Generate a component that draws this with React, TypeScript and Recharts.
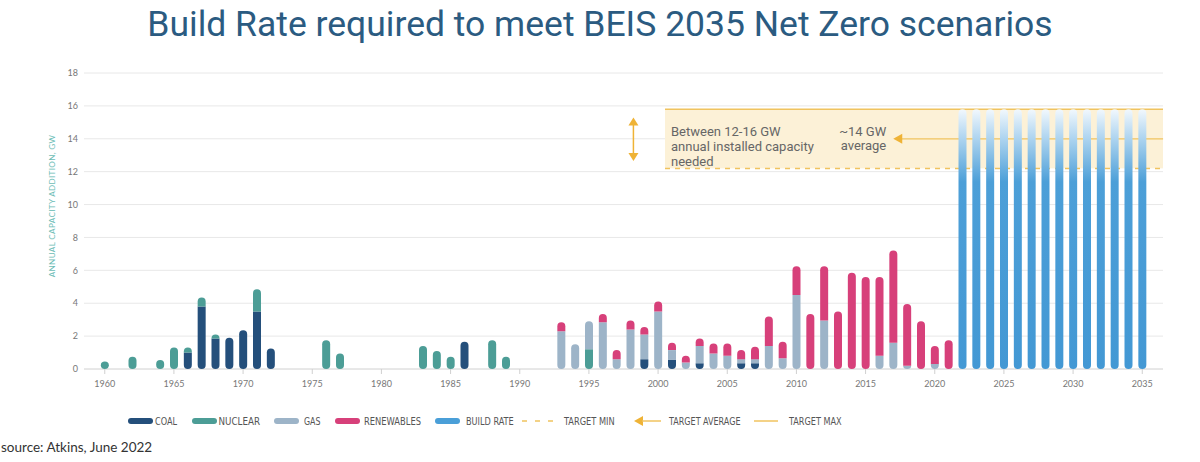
import React from 'react';
import { BarChart, Bar, XAxis, YAxis, CartesianGrid, ReferenceArea, ReferenceLine } from 'recharts';

const YEARS: number[] = [
  1959, 1960, 1961, 1962, 1963, 1964, 1965, 1966, 1967, 1968, 1969, 1970, 1971, 1972, 1973, 1974,
  1975, 1976, 1977, 1978, 1979, 1980, 1981, 1982, 1983, 1984, 1985, 1986, 1987, 1988, 1989, 1990,
  1991, 1992, 1993, 1994, 1995, 1996, 1997, 1998, 1999, 2000, 2001, 2002, 2003, 2004, 2005, 2006,
  2007, 2008, 2009, 2010, 2011, 2012, 2013, 2014, 2015, 2016, 2017, 2018, 2019, 2020, 2021, 2022,
  2023, 2024, 2025, 2026, 2027, 2028, 2029, 2030, 2031, 2032, 2033, 2034, 2035, 2036,
];
const X_TICKS = [1960, 1965, 1970, 1975, 1980, 1985, 1990, 1995, 2000, 2005, 2010, 2015, 2020, 2025, 2030, 2035];
const Y_TICKS = [0, 2, 4, 6, 8, 10, 12, 14, 16, 18];

const COAL: [number, number][] = [
  [1966, 1.0], [1967, 3.8], [1968, 1.85], [1969, 1.9], [1970, 2.35], [1971, 3.5], [1972, 1.25],
  [1986, 1.65], [1999, 0.6], [2001, 0.55], [2003, 0.35], [2006, 0.35], [2007, 0.35],
];
const NUCLEAR: [number, number][] = [
  [1960, 0.45], [1962, 0.75], [1964, 0.55], [1965, 1.3], [1966, 0.3], [1967, 0.55], [1968, 0.25],
  [1971, 1.35], [1976, 1.75], [1977, 0.95], [1983, 1.4], [1984, 1.1], [1985, 0.75], [1988, 1.75],
  [1989, 0.75], [1995, 1.2],
];
const GAS: [number, number][] = [
  [1993, 2.3], [1994, 1.5], [1995, 1.7], [1996, 2.85], [1997, 0.6], [1998, 2.4], [1999, 1.5],
  [2000, 3.5], [2001, 0.6], [2002, 0.4], [2003, 1.05], [2004, 0.95], [2005, 0.8], [2006, 0.25],
  [2007, 0.25], [2008, 1.4], [2009, 0.65], [2010, 4.5], [2012, 2.95], [2016, 0.8], [2017, 1.6],
  [2018, 0.2], [2020, 0.3],
];
const RENEWABLES: [number, number][] = [
  [1993, 0.55], [1996, 0.5], [1997, 0.55], [1998, 0.55], [1999, 0.45], [2000, 0.6], [2001, 0.45],
  [2002, 0.4], [2003, 0.45], [2004, 0.6], [2005, 0.75], [2006, 0.55], [2007, 0.75], [2008, 1.8],
  [2009, 1.0], [2010, 1.75], [2011, 3.35], [2012, 3.3], [2013, 3.5], [2014, 5.85], [2015, 5.6],
  [2016, 4.8], [2017, 5.6], [2018, 3.75], [2019, 2.9], [2020, 1.1], [2021, 1.75],
];
const BUILD_RATE: [number, number][] = [
  [2022, 15.8], [2023, 15.8], [2024, 15.8], [2025, 15.8], [2026, 15.8], [2027, 15.8], [2028, 15.8],
  [2029, 15.8], [2030, 15.8], [2031, 15.8], [2032, 15.8], [2033, 15.8], [2034, 15.8], [2035, 15.8],
];

const TARGET_MIN = 12.2;
const TARGET_AVG = 14;
const TARGET_MAX = 15.8;
const TARGET_START_YEAR = 2001;
const AVG_ARROW_YEAR = 2017;
const LAST_YEAR = 2036;
const RANGE_ARROW_YEAR = 1998;
const RANGE_ARROW_TOP = 15.3;
const RANGE_ARROW_BOTTOM = 12.65;

const SERIES = [
  { key: 'coal', name: 'COAL', color: '#244f7b', values: COAL },
  { key: 'nuclear', name: 'NUCLEAR', color: '#4c9d96', values: NUCLEAR },
  { key: 'gas', name: 'GAS', color: '#9db4c8', values: GAS },
  { key: 'renewables', name: 'RENEWABLES', color: '#d7407a', values: RENEWABLES },
  { key: 'build', name: 'BUILD RATE', color: 'url(#buildGrad)', values: BUILD_RATE },
];

const data = YEARS.map((year) => {
  const row: Record<string, number> = { year };
  SERIES.forEach((s) => {
    const f = s.values.find((v) => v[0] === year);
    row[s.key] = f ? f[1] : 0;
  });
  return row;
});

const GOLD = '#f0c35f';
const ARROW = '#efb336';

const W = 1200;
const H = 462;
const MARGIN = { top: 73, right: 37, left: 0, bottom: 68 };
const Y_AXIS_W = 84;
const X_AXIS_H = 25;

const makeShape = (idx: number, fill: string) => (props: any) => {
  const { x, y, width, height, payload } = props;
  if (!height || height <= 0 || !payload) return <g />;
  const keys = SERIES.map((s) => s.key);
  const below = keys.slice(0, idx).some((k) => (payload[k] || 0) > 0);
  const above = keys.slice(idx + 1).some((k) => (payload[k] || 0) > 0);
  const rx = width / 2;
  const rt = above ? 0 : Math.min(rx, below ? height : height / 2);
  const rb = below ? 0 : Math.min(rx, above ? height : height / 2);
  let d = `M${x},${y + rt}`;
  d += rt > 0 ? `A${rx},${rt} 0 0 1 ${x + width},${y + rt}` : `L${x + width},${y}`;
  d += `L${x + width},${y + height - rb}`;
  d += rb > 0 ? `A${rx},${rb} 0 0 1 ${x},${y + height - rb}` : `L${x},${y + height}`;
  d += 'Z';
  return <path d={d} fill={fill} />;
};

const emptyShape = () => <g />;

const annotFont = "'Liberation Sans Narrow', 'Roboto', sans-serif";

const TargetBand = (p: any) => {
  const { x, y, width, height } = p;
  return (
    <g>
      <rect x={x} y={y} width={width} height={height} fill="#fcf1d7" />
      <line x1={x} x2={x + width} y1={y} y2={y} stroke={GOLD} strokeWidth={1.5} />
      <line x1={x} x2={x + width} y1={y + height} y2={y + height} stroke={GOLD} strokeWidth={1.5} strokeDasharray="5 5" />
      <g fontFamily={annotFont} fontSize={13} fill="#666">
        <text x={x + 6} y={y + 27}>Between 12-16 GW</text>
        <text x={x + 6} y={y + 41.5}>annual installed capacity</text>
        <text x={x + 6} y={y + 56.5}>needed</text>
      </g>
    </g>
  );
};

const AvgArrow = (p: any) => {
  const x1 = Math.min(p.x1, p.x2);
  const x2 = Math.max(p.x1, p.x2);
  const y = p.y1;
  return (
    <g>
      <line x1={x1 + 8} x2={x2 + 7} y1={y} y2={y} stroke={GOLD} strokeWidth={1.3} />
      <polygon points={`${x1},${y} ${x1 + 9},${y - 5} ${x1 + 9},${y + 5}`} fill={ARROW} />
      <g fontFamily={annotFont} fontSize={13} fill="#666" textAnchor="end">
        <text x={x1 - 7} y={y - 3}>~14 GW</text>
        <text x={x1 - 7} y={y + 11.5}>average</text>
      </g>
    </g>
  );
};

const RangeArrow = (p: any) => {
  const x = p.x1 + 3;
  const yt = Math.min(p.y1, p.y2);
  const yb = Math.max(p.y1, p.y2);
  return (
    <g>
      <line x1={x} x2={x} y1={yt + 5} y2={yb - 5} stroke={ARROW} strokeWidth={1.5} />
      <polygon points={`${x},${yt} ${x - 5},${yt + 8} ${x + 5},${yt + 8}`} fill={ARROW} />
      <polygon points={`${x},${yb} ${x - 5},${yb - 8} ${x + 5},${yb - 8}`} fill={ARROW} />
    </g>
  );
};

const legendFont = "'Liberation Sans Narrow', 'DejaVu Sans Condensed', 'Roboto', sans-serif";

const Legend = () => {
  const ly = 421;
  const swatches = [
    { x: 128, color: '#244f7b', label: 'COAL', tx: 155, tw: 22 },
    { x: 192, color: '#4c9d96', label: 'NUCLEAR', tx: 218.5, tw: 41.5 },
    { x: 274, color: '#9db4c8', label: 'GAS', tx: 304, tw: 16.5 },
    { x: 335, color: '#d7407a', label: 'RENEWABLES', tx: 364, tw: 57 },
    { x: 435, color: '#4a9fd8', label: 'BUILD RATE', tx: 466, tw: 47.7 },
  ];
  return (
    <g fontFamily={legendFont} fontSize={11} fill="#555">
      {swatches.map((s) => (
        <g key={s.label}>
          <rect x={s.x} y={ly - 3} width={25} height={6} rx={3} fill={s.color} />
          <text x={s.tx} y={ly + 4} textLength={s.tw} lengthAdjust="spacingAndGlyphs">{s.label}</text>
        </g>
      ))}
      <line x1={522} x2={558} y1={ly} y2={ly} stroke={GOLD} strokeWidth={1.5} strokeDasharray="5 8" />
      <text x={564} y={ly + 4} textLength={50.6} lengthAdjust="spacingAndGlyphs">TARGET MIN</text>
      <polygon points={`634,${ly} 643,${ly - 5} 643,${ly + 5}`} fill={ARROW} />
      <line x1={642} x2={661} y1={ly} y2={ly} stroke={GOLD} strokeWidth={1.5} />
      <text x={669} y={ly + 4} textLength={71.5} lengthAdjust="spacingAndGlyphs">TARGET AVERAGE</text>
      <line x1={754} x2={778} y1={ly} y2={ly} stroke={GOLD} strokeWidth={1.5} />
      <text x={789} y={ly + 4} textLength={52.7} lengthAdjust="spacingAndGlyphs">TARGET MAX</text>
    </g>
  );
};

export default function App() {
  return (
    <div style={{ position: 'absolute', left: 0, top: 0, width: W, height: H, background: '#fff', overflow: 'hidden' }}>
      <div
        style={{
          position: 'absolute', left: 0, top: 3, width: W, textAlign: 'center',
          fontFamily: 'Roboto, sans-serif', fontSize: 35.5, color: '#2b5b81', lineHeight: '42px',
        }}
      >
        Build Rate required to meet BEIS 2035 Net Zero scenarios
      </div>
      {/* background layer: grid, axes, target annotations */}
      <div style={{ position: 'absolute', left: 0, top: 0 }}>
        <BarChart width={W} height={H} data={data} margin={MARGIN} barSize={8}>
          <CartesianGrid vertical={false} stroke="#e8e8e8" />
          <XAxis
            dataKey="year"
            ticks={X_TICKS}
            interval={0}
            tickSize={5}
            tickMargin={7}
            axisLine={{ stroke: '#dcdcdc' }}
            tickLine={{ stroke: '#d0d0d0' }}
            tick={{ fontSize: 9, fill: '#777', fontFamily: 'Lato, sans-serif' }}
            height={X_AXIS_H}
          />
          <YAxis
            domain={[0, 18]}
            ticks={Y_TICKS}
            width={Y_AXIS_W}
            axisLine={false}
            tickLine={false}
            tickSize={0}
            tickMargin={6}
            tick={{ fontSize: 9, fill: '#777', fontFamily: 'Lato, sans-serif' }}
          />
          {SERIES.map((s) => (
            <Bar
              key={`bg-${s.key}`}
              dataKey={s.key}
              stackId="a"
              fill="none"
              isAnimationActive={false}
              shape={emptyShape}
            />
          ))}
          <ReferenceArea
            x1={TARGET_START_YEAR}
            y1={TARGET_MIN}
            y2={TARGET_MAX}
            ifOverflow="visible"
            shape={TargetBand}
          />
          <ReferenceLine
            segment={[{ x: AVG_ARROW_YEAR, y: TARGET_AVG }, { x: LAST_YEAR, y: TARGET_AVG }]}
            ifOverflow="visible"
            shape={AvgArrow}
          />
          <ReferenceLine
            segment={[{ x: RANGE_ARROW_YEAR, y: RANGE_ARROW_TOP }, { x: RANGE_ARROW_YEAR, y: RANGE_ARROW_BOTTOM }]}
            ifOverflow="visible"
            shape={RangeArrow}
          />
        </BarChart>
      </div>
      {/* foreground layer: stacked capsule bars on the same scales */}
      <div style={{ position: 'absolute', left: 0, top: 0 }}>
        <BarChart
          width={W}
          height={H}
          data={data}
          margin={{ top: MARGIN.top, right: MARGIN.right, left: MARGIN.left + Y_AXIS_W, bottom: MARGIN.bottom + X_AXIS_H }}
          barSize={8}
        >
          <defs>
            <linearGradient id="buildGrad" x1="0" y1="0" x2="0" y2="1">
              <stop offset="0" stopColor="#f2f8fd" />
              <stop offset="0.1" stopColor="#b5d8f1" />
              <stop offset="0.28" stopColor="#4c9fd8" />
              <stop offset="1" stopColor="#4398d4" />
            </linearGradient>
          </defs>
          <XAxis dataKey="year" hide />
          <YAxis domain={[0, 18]} ticks={Y_TICKS} hide />
          {SERIES.map((s, i) => (
            <Bar
              key={s.key}
              dataKey={s.key}
              name={s.name}
              stackId="a"
              fill={s.color}
              isAnimationActive={false}
              shape={makeShape(i, s.color)}
            />
          ))}
        </BarChart>
      </div>
      <svg width={W} height={H} style={{ position: 'absolute', left: 0, top: 0, pointerEvents: 'none' }}>
        <text
          transform="translate(55,206) rotate(-90)"
          textAnchor="middle"
          fontFamily="Lato, sans-serif"
          fontSize={8.2}
          fill="#6dbdb6"
          letterSpacing={0.3}
        >
          ANNUAL CAPACITY ADDITION, GW
        </text>
        <Legend />
      </svg>
      <div
        style={{
          position: 'absolute', left: 1, top: 438, fontFamily: 'Lato, sans-serif', fontSize: 13.5,
          color: '#333', whiteSpace: 'nowrap', lineHeight: '18px',
        }}
      >
        source: Atkins, June 2022
      </div>
    </div>
  );
}
